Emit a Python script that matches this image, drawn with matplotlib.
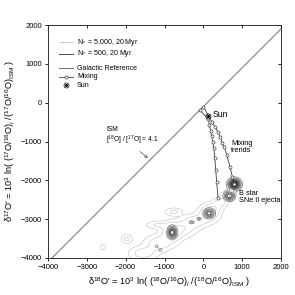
import numpy as np
import matplotlib
matplotlib.use('Agg')
import matplotlib.pyplot as plt
from matplotlib.lines import Line2D

plt.rcParams['font.family'] = ['Liberation Sans', 'DejaVu Sans']
plt.rcParams['mathtext.fontset'] = 'custom'
plt.rcParams['mathtext.rm'] = 'Liberation Sans'
plt.rcParams['mathtext.it'] = 'Liberation Sans:italic'
plt.rcParams['mathtext.bf'] = 'Liberation Sans:bold'

# ---------------- data ----------------
x_ticks = [-4000, -3000, -2000, -1000, 0, 1000, 2000]
y_ticks = [-4000, -3000, -2000, -1000, 0, 1000, 2000]

galactic_slope = 1.0
galactic_intercept = -100.0

mix_left_x = [-90, 128, 158, 188, 215, 245, 270, 295, 320, 343, 378]
mix_left_y = [-190, -421, -575, -730, -858, -1013, -1167, -1425, -1734, -2043, -2455]

mix_right_x = [0, 215, 300, 370, 429, 489, 540, 601, 687, 746, 790]
mix_right_y = [-100, -490, -619, -748, -876, -1031, -1134, -1348, -1649, -1906, -2102]

sun_x = [110]
sun_y = [-335]

# N* = 5,000 (light) cluster components: centre, spread, weight
n5000_x = [-2590, -1970, -1550, -1150, -1150, -800, -500, -200, -760, 150, 420, 620, 250]
n5000_y = [-3720, -3510, -3880, -3620, -3150, -3350, -3250, -3050, -2810, -2850, -2580, -2420, -2700]
n5000_sx = [55, 90, 220, 220, 200, 170, 220, 220, 130, 170, 100, 120, 150]
n5000_sy = [55, 70, 110, 130, 60, 160, 130, 110, 60, 130, 80, 100, 90]
n5000_w = [0.25, 0.45, 0.55, 0.6, 0.4, 0.8, 0.5, 0.55, 0.45, 0.8, 0.5, 0.4, 0.35]

# N* = 500 (dark) cluster components
n500_x = [800, 670, 150, -800, -300, -110, -1200, -1110]
n500_y = [-2100, -2400, -2850, -3340, -3080, -2990, -3700, -3790]
n500_sx = [95, 85, 85, 70, 50, 40, 30, 30]
n500_sy = [85, 75, 75, 95, 30, 30, 30, 30]
n500_w = [1.4, 0.85, 0.8, 1.0, 0.3, 0.3, 0.25, 0.25]

# ---------------- figure ----------------
fig = plt.figure(figsize=(2.95, 2.95), dpi=100)
ax = fig.add_axes([48 / 295, 1 - 258 / 295, 233 / 295, 233 / 295])

gx = np.linspace(-4000, 2000, 601)
gy = np.linspace(-4000, 2000, 601)
GX, GY = np.meshgrid(gx, gy)


def field(xs, ys, sxs, sys, ws):
    Z = np.zeros_like(GX)
    for x0, y0, sx, sy, w in zip(xs, ys, sxs, sys, ws):
        Z += w * np.exp(-0.5 * ((GX - x0) / sx) ** 2 - 0.5 * ((GY - y0) / sy) ** 2)
    return Z


Z_light = field(n5000_x, n5000_y, n5000_sx, n5000_sy, n5000_w)
Z_dark = field(n500_x, n500_y, n500_sx, n500_sy, n500_w)

ax.contour(GX, GY, Z_light, levels=[0.12, 0.35, 0.65],
           colors='#cccccc', linewidths=0.5)
dark_levels = [0.12, 0.25, 0.4, 0.55, 0.7, 0.85, 1.0, 1.15, 1.3]
dark_colors = [str(v) for v in np.linspace(0.5, 0.0, len(dark_levels))]
ax.contour(GX, GY, Z_dark, levels=dark_levels, colors=dark_colors, linewidths=0.55)

# galactic reference line
gl_x = np.array([-4000, 2000])
ax.plot(gl_x, galactic_slope * gl_x + galactic_intercept, color='#707070', lw=0.7)

# mixing trends
for mx, my in ((mix_left_x, mix_left_y), (mix_right_x, mix_right_y)):
    ax.plot(mx, my, color='#404040', lw=0.6, marker='o', ms=2.2,
            mfc='white', mec='#404040', mew=0.5)

# Sun
ax.plot(sun_x, sun_y, 'o', ms=3.6, mfc='white', mec='black', mew=0.6)
ax.plot(sun_x, sun_y, 'o', ms=1.2, color='black')

# annotations
ax.text(230, -300, 'Sun', fontsize=6.3, ha='left', va='center')
ax.text(712, -1140, 'Mixing\ntrends', fontsize=5.3, ha='left', va='center', linespacing=1.05)
ax.text(918, -2425, 'B star\nSNe II ejecta', fontsize=5.3, ha='left', va='center', linespacing=1.05)
ax.text(-2500, -870, 'ISM\n[$^{18}$O] / [$^{17}$O] = 4.1', fontsize=4.8, ha='left', va='center',
        linespacing=1.1)
ax.annotate('', xy=(-1374, -1474), xytext=(-1690, -1210),
            arrowprops=dict(arrowstyle='->', lw=0.5, color='#505050', mutation_scale=5))

# manual legend
leg_y = [0.927, 0.876, 0.815, 0.777, 0.742]
hx0, hx1, tx = 0.047, 0.107, 0.124
hc = (hx0 + hx1) / 2
ax.add_line(Line2D([hx0, hx1], [leg_y[0]] * 2, transform=ax.transAxes, color='#c4c4c4', lw=0.6))
ax.add_line(Line2D([hx0, hx1], [leg_y[1]] * 2, transform=ax.transAxes, color='#303030', lw=0.6))
ax.add_line(Line2D([hx0, hx1], [leg_y[2]] * 2, transform=ax.transAxes, color='#707070', lw=0.7))
ax.add_line(Line2D([hx0, hx1], [leg_y[3]] * 2, transform=ax.transAxes, color='#404040', lw=0.6))
ax.add_line(Line2D([hc], [leg_y[3]], transform=ax.transAxes, marker='o', ms=2.2,
                   mfc='white', mec='#404040', mew=0.5, ls='none'))
ax.add_line(Line2D([hc], [leg_y[4]], transform=ax.transAxes, marker='o', ms=3.6,
                   mfc='white', mec='black', mew=0.5, ls='none'))
ax.add_line(Line2D([hc], [leg_y[4]], transform=ax.transAxes, marker='o', ms=1.1,
                   color='black', ls='none'))
labels = ['N$_*$ = 5,000, 20 Myr', 'N$_*$ = 500, 20 Myr', 'Galactic Reference', 'Mixing', 'Sun']
for yy, lab in zip(leg_y, labels):
    ax.text(tx, yy, lab, transform=ax.transAxes, fontsize=5, ha='left', va='center')

# axes styling
ax.set_xlim(-4000, 2000)
ax.set_ylim(-4000, 2000)
ax.set_xticks(x_ticks)
ax.set_yticks(y_ticks)
ax.tick_params(axis='both', which='both', labelsize=5.5, width=0.6, length=2.5, pad=2,
               direction='out')
ax.tick_params(axis='both', which='both', top=True, right=True)
for t in ax.xaxis.get_major_ticks():
    t.tick2line.set_marker(3)  # inward at top
for t in ax.yaxis.get_major_ticks():
    t.tick2line.set_marker(0)  # inward at right
for s in ax.spines.values():
    s.set_linewidth(0.7)
    s.set_color('#303030')

ax.set_xlabel("δ$^{18}$O' = 10$^3$ ln( ($^{18}$O/$^{16}$O)$_i$ /($^{18}$O/$^{16}$O)$_{\\rm ISM}$ )",
              fontsize=6.6)
ax.set_ylabel("δ$^{17}$O' = 10$^3$ ln( ($^{17}$O/$^{16}$O)$_i$ /($^{17}$O/$^{16}$O)$_{\\rm ISM}$ )",
              fontsize=6.6)
ax.xaxis.set_label_coords(0.52, -0.075)
ax.yaxis.set_label_coords(-0.135, 0.5)

fig.savefig('out.png', dpi=100)
